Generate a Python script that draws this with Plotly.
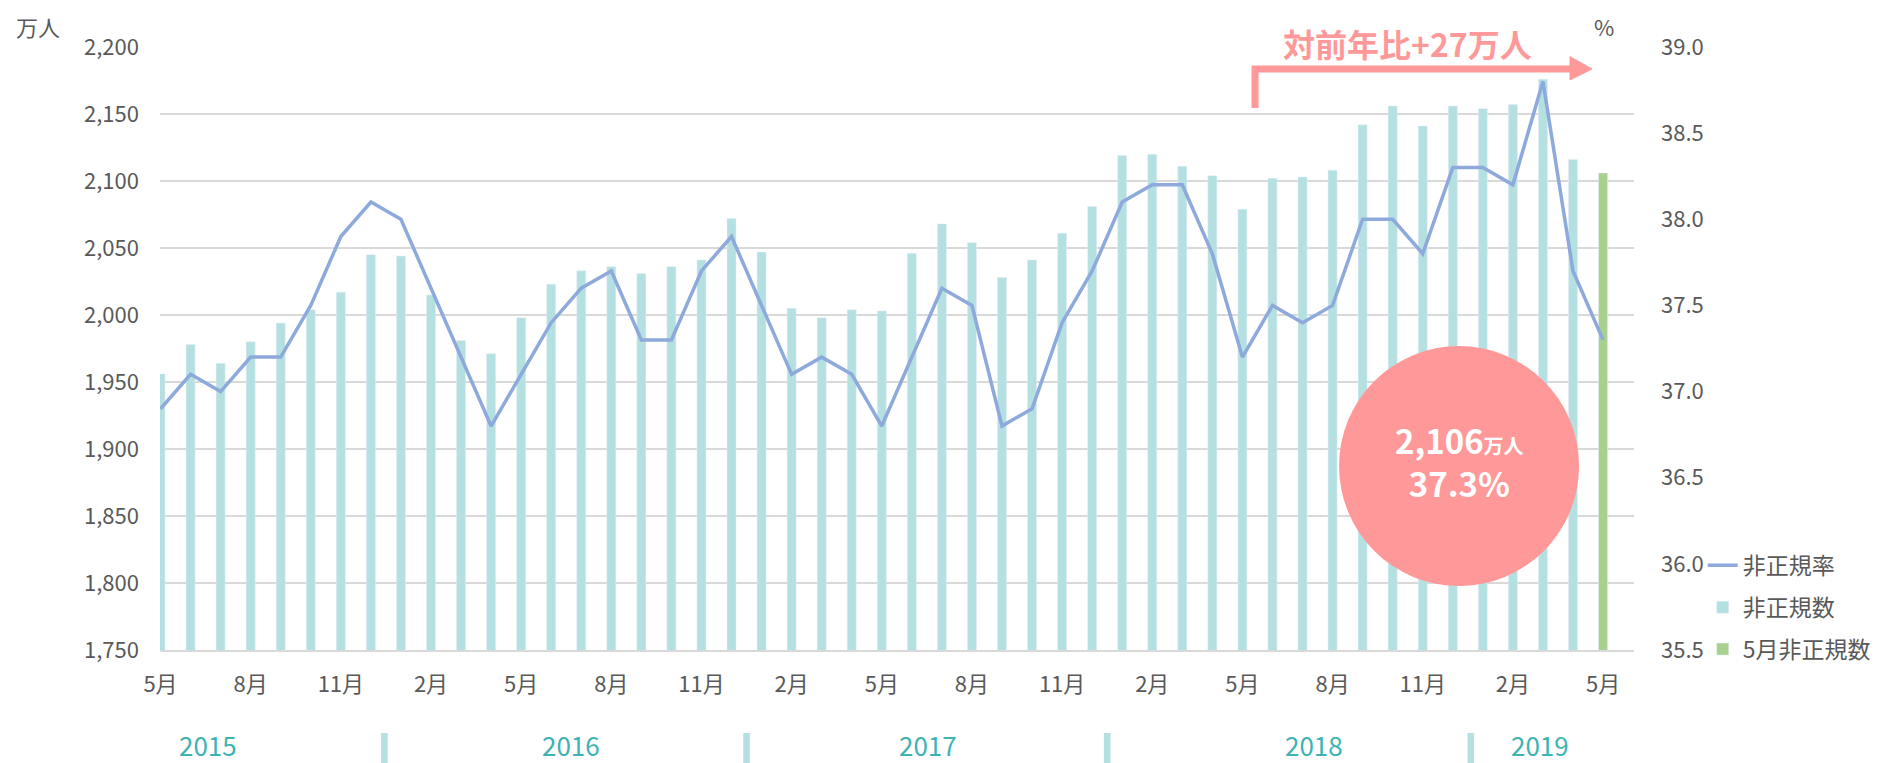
import plotly.graph_objects as go

# ---- data ----
months = [
    "2015-05", "2015-06", "2015-07", "2015-08", "2015-09", "2015-10", "2015-11", "2015-12",
    "2016-01", "2016-02", "2016-03", "2016-04", "2016-05", "2016-06", "2016-07", "2016-08",
    "2016-09", "2016-10", "2016-11", "2016-12", "2017-01", "2017-02", "2017-03", "2017-04",
    "2017-05", "2017-06", "2017-07", "2017-08", "2017-09", "2017-10", "2017-11", "2017-12",
    "2018-01", "2018-02", "2018-03", "2018-04", "2018-05", "2018-06", "2018-07", "2018-08",
    "2018-09", "2018-10", "2018-11", "2018-12", "2019-01", "2019-02", "2019-03", "2019-04",
    "2019-05",
]
nonregular_count = [
    1956, 1978, 1964, 1980, 1994, 2004, 2017, 2045,
    2044, 2015, 1981, 1971, 1998, 2023, 2033, 2036,
    2031, 2036, 2041, 2072, 2047, 2005, 1998, 2004,
    2003, 2046, 2068, 2054, 2028, 2041, 2061, 2081,
    2119, 2120, 2111, 2104, 2079, 2102, 2103, 2108,
    2142, 2156, 2141, 2156, 2154, 2157, 2176, 2116,
    2106,
]
nonregular_rate = [
    36.9, 37.1, 37.0, 37.2, 37.2, 37.5, 37.9, 38.1,
    38.0, 37.6, 37.2, 36.8, 37.1, 37.4, 37.6, 37.7,
    37.3, 37.3, 37.7, 37.9, 37.5, 37.1, 37.2, 37.1,
    36.8, 37.2, 37.6, 37.5, 36.8, 36.9, 37.4, 37.7,
    38.1, 38.2, 38.2, 37.8, 37.2, 37.5, 37.4, 37.5,
    38.0, 38.0, 37.8, 38.3, 38.3, 38.2, 38.8, 37.7,
    37.3,
]
tick_months = [0, 3, 6, 9, 12, 15, 18, 21, 24, 27, 30, 33, 36, 39, 42, 45, 48]
tick_labels = ["5月", "8月", "11月", "2月"] * 4 + ["5月"]
years = ["2015", "2016", "2017", "2018", "2019"]
year_label_pos = [1.58, 13.66, 25.54, 38.39, 45.9]
year_sep_pos = [7.45, 19.5, 31.5, 43.6]

x = list(range(len(months)))
last = len(months) - 1

TEAL = "#B4E0E1"
GREEN = "#A9D18E"
LINE = "#8EA9DB"
SALMON = "#FF9999"
GRAY = "#595959"
FONT = "Noto Sans CJK JP"

fig = go.Figure()
fig.add_trace(go.Scatter(
    x=x, y=nonregular_rate, name="非正規率", yaxis="y2", mode="lines",
    line=dict(color=LINE, width=3.5), legendgroup="a",
))
fig.add_trace(go.Bar(
    x=x[:last], y=nonregular_count[:last], name="非正規数", marker_color=TEAL,
    width=0.3, legendgroup="b",
))
fig.add_trace(go.Bar(
    x=[x[last]], y=[nonregular_count[last]], name="5月非正規数", marker_color=GREEN,
    width=0.3, legendgroup="c",
))

shapes = []
annotations = []

# year separators and labels
for s in year_sep_pos:
    shapes.append(dict(type="rect", xref="x", yref="paper", x0=s - 0.11, x1=s + 0.11,
                       y0=-0.1376, y1=-0.19, fillcolor=TEAL, line=dict(width=0)))
for t, p in zip(years, year_label_pos):
    annotations.append(dict(text=t, x=p, y=-0.1559, xref="x", yref="paper", showarrow=False,
                            font=dict(size=26, color="#3DB3B3", family=FONT),
                            xanchor="center", yanchor="middle"))

# arrow
shapes.append(dict(type="path", xref="paper", yref="paper",
                   path="M 0.7429,0.8988 L 0.7429,0.9635 L 0.9566,0.9635",
                   line=dict(color=SALMON, width=7)))
shapes.append(dict(type="path", xref="paper", yref="paper",
                   path="M 0.9566,0.984 L 0.9715,0.9635 L 0.9566,0.9453 Z",
                   fillcolor=SALMON, line=dict(color=SALMON, width=1)))
annotations.append(dict(text="<b>対前年比+27万人</b>", x=0.846, y=1.0066, xref="paper", yref="paper",
                        showarrow=False, font=dict(size=32, color=SALMON, family=FONT),
                        xanchor="center", yanchor="middle"))

# circle callout
shapes.append(dict(type="circle", xref="paper", yref="paper", xsizemode="pixel", ysizemode="pixel",
                   xanchor=0.8813, yanchor=0.3051, x0=-120, x1=120, y0=-120, y1=120,
                   fillcolor=SALMON, line=dict(width=0), layer="above"))
annotations.append(dict(
    text="<b>{:,}<span style='font-size:20px'>万人</span><br>{}%</b>".format(
        nonregular_count[last], nonregular_rate[last]),
    x=0.8813, y=0.3118, xref="paper", yref="paper", showarrow=False,
    font=dict(size=33, color="white", family=FONT), xanchor="center", yanchor="middle"))

# unit labels
annotations.append(dict(text="万人", x=(38 - 160) / 1474, y=(650 - 26) / 603, xref="paper",
                        yref="paper", showarrow=False, font=dict(size=22, color=GRAY, family=FONT),
                        xanchor="center", yanchor="middle"))
annotations.append(dict(text="%", x=(1604 - 160) / 1474, y=(650 - 26) / 603, xref="paper", yref="paper",
                        showarrow=False, font=dict(size=22, color=GRAY, family=FONT),
                        xanchor="center", yanchor="middle"))

# page body has an 8px margin, so the figure is 8px smaller and margins shifted
fig.update_layout(
    width=1873, height=755,
    margin=dict(l=152, r=247, t=39, b=113, autoexpand=False),
    paper_bgcolor="white", plot_bgcolor="white",
    font=dict(family=FONT, size=22, color=GRAY),
    barmode="overlay",
    showlegend=True,
    legend=dict(x=1.0466, y=0.176, xanchor="left", yanchor="top", font=dict(size=23, color=GRAY),
                tracegroupgap=9, bgcolor="rgba(0,0,0,0)", itemwidth=30),
    xaxis=dict(range=[-0.017, 49.03], tickmode="array", tickvals=tick_months, ticktext=tick_labels,
               showgrid=False, zeroline=False, showline=True, linecolor="#D9D9D9", linewidth=2,
               ticks="", ticklabelstandoff=14, tickfont=dict(size=22, color=GRAY)),
    yaxis=dict(range=[1750, 2200], dtick=50, tickformat=",d", showgrid=True, gridcolor="#D9D9D9",
               gridwidth=1.5, zeroline=False, ticks="", ticklabelstandoff=20,
               tickfont=dict(size=22, color=GRAY)),
    yaxis2=dict(range=[35.5, 39.0], dtick=0.5, tickformat=".1f", overlaying="y", side="right",
                showgrid=False, zeroline=False, ticks="", ticklabelstandoff=26,
                tickfont=dict(size=22, color=GRAY)),
    shapes=shapes,
    annotations=annotations,
)

fig.write_html("out.html")
